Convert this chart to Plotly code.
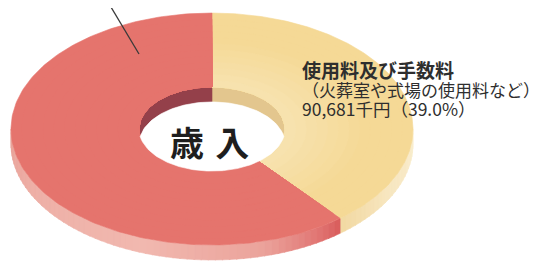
import numpy as np
import plotly.graph_objects as go

# ---- data ----
categories = ["使用料及び手数料", "その他の収入"]
values = [90681, 141834]          # 千円 (second slice label is cropped in the reference)
slice_colors = ["#f5d996", "#e5746d"]
slice_inner_colors = ["#f7e2ae", "#e5746d"]
inner_wall_colors = ["#e3c68e", "#94404a"]
center_label = "歳\u2004入"
label_lines = ["使用料及び手数料", "（火葬室や式場の使用料など）"]

# ---- geometry (units: outer radius = 1) ----
W, H = 543, 261
OFF = 8                 # page body margin of the html page
PX = 201.0              # pixels per unit
CX, CY = 212.0, 129.0   # centre of top face in (screenshot) pixels
TILT = 0.577
HOLE = 0.363
T = 15.0 / PX           # thickness

total = sum(values)
shares = [v / total for v in values]
angles = np.cumsum([0] + [s * 360 for s in shares])  # clockwise from top, degrees


def pts(r, th_deg, dy=0.0):
    th = np.radians(th_deg)
    return r * np.sin(th), r * np.cos(th) * TILT - dy


def hexmix(c1, c2, f):
    a = [int(c1[i:i + 2], 16) for i in (1, 3, 5)]
    b = [int(c2[i:i + 2], 16) for i in (1, 3, 5)]
    m = [round(a[k] + (b[k] - a[k]) * f) for k in range(3)]
    return "#%02x%02x%02x" % tuple(m)


def grad(stops, th):
    for (t1, c1), (t2, c2) in zip(stops, stops[1:]):
        if t1 <= th <= t2:
            return hexmix(c1, c2, (th - t1) / (t2 - t1) if t2 > t1 else 0)
    return stops[-1][1]


wall_stops = [
    [(90, "#faeed0"), (120, "#f7e6bf"), (141, "#f2d9a2")],
    [(140, "#d95a5a"), (147, "#e07270"), (165, "#eba39b"), (200, "#f1b8af"),
     (240, "#eeb0a7"), (270, "#e9a198")],
]

fig = go.Figure()


def poly(x, y, color):
    fig.add_trace(go.Scatter(x=np.append(x, x[0]), y=np.append(y, y[0]), mode="lines",
                             fill="toself", fillcolor=color, line=dict(width=0.6, color=color),
                             hoverinfo="skip", showlegend=False))


# outer side walls (front half: 90..270 deg)
for i in range(len(values)):
    a1, a2 = max(angles[i], 90), min(angles[i + 1], 270)
    if a2 <= a1:
        continue
    n = max(2, int((a2 - a1) / 2))
    edges = np.linspace(a1, a2, n + 1)
    for e1, e2 in zip(edges[:-1], edges[1:]):
        th = np.linspace(e1, e2 + 0.3 if e2 < a2 else e2, 6)
        x1, y1 = pts(1.0, th)
        x2, y2 = pts(1.0, th[::-1], T)
        poly(np.concatenate([x1, x2]), np.concatenate([y1, y2]),
             grad(wall_stops[i], (e1 + e2) / 2))

# inner back walls (-90..90 deg)
for i in range(len(values)):
    lo, hi = angles[i], angles[i + 1]
    for seg in [(lo, hi), (lo - 360, hi - 360)]:
        a1, a2 = max(seg[0], -90), min(seg[1], 90)
        if a2 <= a1:
            continue
        th = np.linspace(a1, a2, 60)
        x1, y1 = pts(HOLE, th)
        x2, y2 = pts(HOLE, th[::-1], T)
        poly(np.concatenate([x1, x2]), np.concatenate([y1, y2]), inner_wall_colors[i])

# top faces (with a soft radial shading, drawn as concentric bands)
rings = np.linspace(1.0, HOLE, 13)
for i in range(len(values)):
    th = np.linspace(angles[i], angles[i + 1], 200)
    for k, r_out in enumerate(rings[:-1]):
        f = max(0.0, (k - 4) / 7.0)
        xo, yo = pts(r_out, th)
        xi, yi = pts(HOLE, th[::-1])
        poly(np.concatenate([xo, xi]), np.concatenate([yo, yi]),
             hexmix(slice_colors[i], slice_inner_colors[i], min(f, 1.0)))

# visible hole floor (white lens)
rt = HOLE * TILT
xm = HOLE * np.sqrt(1 - (T / (2 * rt)) ** 2)
xs = np.linspace(-xm, xm, 120)
upper = -T + rt * np.sqrt(np.clip(1 - xs ** 2 / HOLE ** 2, 0, None))
lower = -rt * np.sqrt(np.clip(1 - xs ** 2 / HOLE ** 2, 0, None))
poly(np.concatenate([xs, xs[::-1]]), np.concatenate([upper, lower[::-1]]), "#ffffff")


def ux(px):
    return (px - CX) / PX


def uy(py):
    return (CY - py) / PX


# leader line of the (cropped) label of the red slice
fig.add_shape(type="line", x0=ux(102), y0=uy(-8), x1=ux(139), y1=uy(54),
              line=dict(color="#3a3a3a", width=1.3))

font = "Noto Sans CJK JP"
fig.add_annotation(x=ux(209.5), y=uy(141), text="<b>%s</b>" % center_label, showarrow=False,
                   font=dict(family=font, size=34, color="#1e1e1e"), xanchor="center", yanchor="middle")

pct = shares[0] * 100
line3 = "{:,}千円（{:.1f}%）".format(values[0], pct)
label_text = ('<span style="font-size:19px"><b>%s</b></span><br>'
              '<span style="font-size:17px">%s</span><br>'
              '<span style="font-size:17.5px">%s</span>') % (label_lines[0], label_lines[1], line3)
fig.add_annotation(x=ux(300), y=uy(88.5), text=label_text, showarrow=False, align="left",
                   font=dict(family=font, size=14.6, color="#2e2e2e"), xanchor="left", yanchor="middle")

fig.update_layout(
    width=W, height=H, margin=dict(l=0, r=0, t=0, b=0),
    paper_bgcolor="white", plot_bgcolor="white", showlegend=False,
    xaxis=dict(range=[ux(OFF), ux(W + OFF)], visible=False, fixedrange=True),
    yaxis=dict(range=[uy(H + OFF), uy(OFF)], visible=False, fixedrange=True),
)
fig.write_html("out.html")
